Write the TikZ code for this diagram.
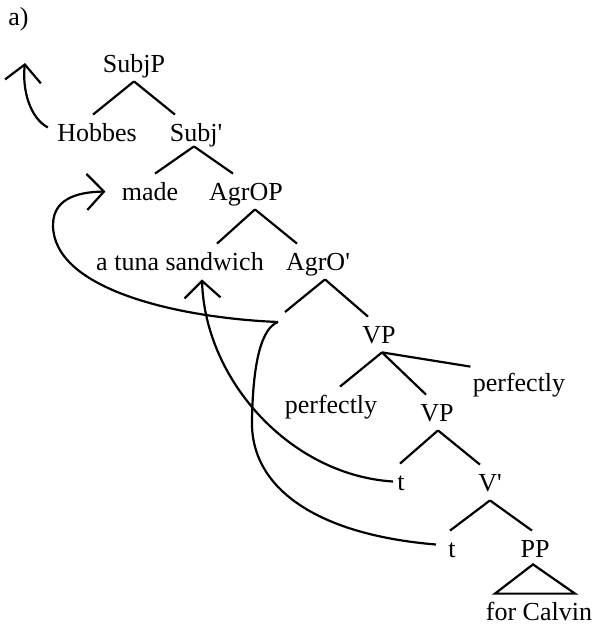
\documentclass[tikz,border=0pt]{standalone}
\usepackage{fontspec}
\setmainfont{Liberation Serif}[Ligatures=TeXOff]
\usetikzlibrary{arrows.meta,calc}
\tikzset{
  cat/.style={inner xsep=2pt, inner ysep=0pt, text height=13pt, text depth=4.5pt,
    anchor=base, font=\fontsize{13}{15}\selectfont},
  br/.style={line width=1.1pt},
  mv/.style={line width=1.1pt, -{Straight Barb[length=8.5pt,width=18pt]}}
}
\begin{document}
\begin{tikzpicture}[x=0.5pt,y=-0.5pt]
\useasboundingbox (0,0) rectangle (595,627);
\node[cat, anchor=base west] (label) at (4,25) {a)};
\node[cat] (subjp) at (134,72) {SubjP};
\node[cat] (hobbes) at (97,141) {Hobbes};
\node[cat] (subjbar) at (196,141) {Subj'};
\node[cat] (made) at (150,200) {made};
\node[cat] (agrop) at (246,200) {AgrOP};
\node[cat] (tuna) at (180,270) {a tuna sandwich};
\node[cat] (agrobar) at (318,270) {AgrO'};
\coordinate (vhead) at (278,322);
\node[cat] (vp) at (379,343) {VP};
\node[cat] (perfl) at (331,413) {perfectly};
\node[cat] (vpb) at (437,421) {VP};
\node[cat] (perfr) at (519,391) {perfectly};
\node[cat] (tup) at (401,490) {t};
\node[cat] (vbar) at (490,491) {V'};
\node[cat] (tlow) at (452,557) {t};
\node[cat] (pp) at (535,557) {PP};
\node[cat] (calvin) at (539,620) {for Calvin};
\coordinate (hobup) at (25,63);

\draw[br] (subjp.south) -- ($(hobbes.north)+(-4,0)$);
\draw[br] (subjp.south) -- ($(subjbar.north)+(-21,0)$);
\draw[br] ($(subjbar.south)+(-2,-4)$) -- ($(made.north)+(5,0)$);
\draw[br] ($(subjbar.south)+(-2,-4)$) -- ($(agrop.north)+(-13,0)$);
\draw[br] ($(agrop.south)+(9,0)$) -- ($(tuna.north)+(37,0)$);
\draw[br] ($(agrop.south)+(9,0)$) -- ($(agrobar.north)+(-21,0)$);
\draw[br] ($(agrobar.south)+(7,0)$) -- ($(vhead)+(7,-10)$);
\draw[br] ($(agrobar.south)+(7,0)$) -- ($(vp.north)+(-11,0)$);
\draw[br] ($(vp.south)+(3,0)$) -- ($(perfl.north)+(9,0)$);
\draw[br] ($(vp.south)+(3,0)$) -- ($(vpb.north)+(-11,0)$);
\draw[br] ($(vp.south)+(3,0)$) -- ($(perfr.north west)+(2,2)$);
\draw[br] ($(vpb.south)+(1,0)$) -- ($(tup.north)+(-1,0)$);
\draw[br] ($(vpb.south)+(1,0)$) -- ($(vbar.north)+(-10,0)$);
\draw[br] (vbar.south) -- ($(tlow.north)+(-2,0)$);
\draw[br] (vbar.south) -- ($(pp.north)+(-3,0)$);
\draw[br] ($(pp.south)+(-2,-2)$) -- ($(calvin.north)+(-44,0)$) -- ($(calvin.north)+(36,0)$) -- cycle;

\draw[mv] ($(hobbes.west)+(-5,-5)$) .. controls (30,118) and (22,90) .. (hobup);
\draw[mv] (vhead) .. controls (180,318) and (53,290) .. (53,225)
  .. controls (53,195) and (85,192) .. ($(made.west)+(-12,0)$);
\draw[br] ($(tlow.west)+(-8,-4)$) .. controls (320,535) and (250,490) .. (252,420)
  .. controls (253,360) and (262,328) .. (vhead);
\draw[mv] (tup.west) .. controls (290,475) and (205,380) .. ($(tuna.south)+(22,0)$);
\end{tikzpicture}
\end{document}
